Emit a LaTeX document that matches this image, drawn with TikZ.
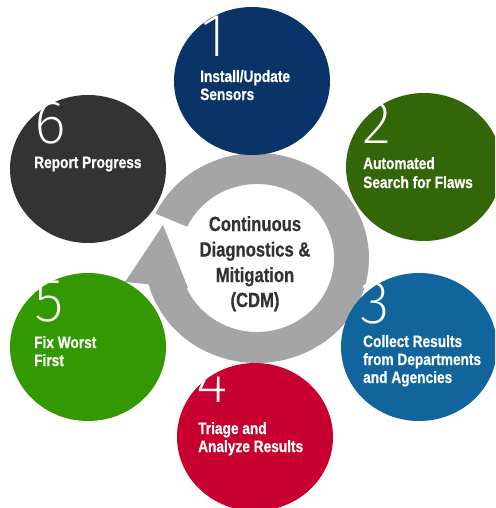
\documentclass[tikz,border=0pt]{standalone}
\usepackage{fontspec}
\usetikzlibrary{shapes.geometric}
\newfontfamily\labfont[FakeStretch=0.83,FakeBold=0.6]{Liberation Sans}
\newfontfamily\cdmfont[FakeStretch=0.81,FakeBold=0.6]{Liberation Sans}
\IfFontExistsTF{FiraSans-ExtraLight.otf}{\newfontfamily\numfont{FiraSans-ExtraLight.otf}}{%
  \IfFontExistsTF{Fira Sans ExtraLight}{\newfontfamily\numfont{Fira Sans ExtraLight}}{\newfontfamily\numfont{Fira Sans}}}
\definecolor{c1}{HTML}{0A3468}
\definecolor{c2}{HTML}{336608}
\definecolor{c3}{HTML}{11649C}
\definecolor{c4}{HTML}{C80030}
\definecolor{c5}{HTML}{339900}
\definecolor{c6}{HTML}{333333}
\definecolor{ringgray}{HTML}{A5A5A5}
\definecolor{cdmtext}{HTML}{333333}
\begin{document}
\begin{tikzpicture}[x=1pt,y=-1pt,
  bubble/.style={ellipse, minimum width=156pt, minimum height=148pt, inner sep=0pt, draw=none},
  num/.style={anchor=base west, inner sep=0pt, text height=43pt, text depth=0pt, text=white, font=\numfont\fontsize{61}{61}\selectfont},
  lab/.style={anchor=base west, inner sep=0pt, text height=12pt, text depth=3pt, text=white, font=\labfont\bfseries\fontsize{16.5}{18.5}\selectfont},
  cdm/.style={anchor=base, inner sep=0pt, text=cdmtext, font=\cdmfont\bfseries\fontsize{20.5}{25}\selectfont}]
\clip (0,0) rectangle (495,508);
\fill[white] (0,0) rectangle (495,508);
% ring with arrow
\fill[ringgray] (155.5,213.6) arc[start angle=-155, end angle=166, x radius=112, y radius=105]
  -- (182.3,275.9) arc[start angle=166, end angle=-155, x radius=77, y radius=74] -- cycle;
\coordinate (tip) at (163,225);
\coordinate (bl) at (125,282);
\coordinate (br) at (188,288);
\fill[ringgray] (tip) -- (bl) -- (br) -- cycle;
% bubbles
\node[bubble, fill=c1] (s1) at (252,81) {};
\node[bubble, fill=c2] (s2) at (424,167) {};
\node[bubble, fill=c3] (s3) at (419,347) {};
\node[bubble, fill=c4] (s4) at (255,437) {};
\node[bubble, fill=c5] (s5) at (88,347) {};
\node[bubble, fill=c6] (s6) at (88,169) {};
% numerals
\node[num] (n1) at (201,57) {1};
\node[num] (n2) at (362,143) {2};
\node[num] (n3) at (360,323) {3};
\node[num] (n4) at (196,402) {4};
\node[num] (n5) at (34,321) {5};
\node[num] (n6) at (34,143) {6};
% labels
\node[lab] (l1a) at (200,82) {Install/Update};
\node[lab] (l1b) at (200,100) {Sensors};
\node[lab] (l2a) at (363,169) {Automated};
\node[lab] (l2b) at (363,188) {Search for Flaws};
\node[lab] (l3a) at (363,347) {Collect Results};
\node[lab] (l3b) at (363,365) {from Departments};
\node[lab] (l3c) at (363,383) {and Agencies};
\node[lab] (l4a) at (198,434) {Triage and};
\node[lab] (l4b) at (198,452) {Analyze Results};
\node[lab] (l5a) at (34,348) {Fix Worst};
\node[lab] (l5b) at (34,366) {First};
\node[lab] (l6a) at (34,168) {Report Progress};
% centre text
\node[cdm] (t1) at (255,231) {Continuous};
\node[cdm] (t2) at (255,256.5) {Diagnostics \&};
\node[cdm] (t3) at (255,282) {Mitigation};
\node[cdm] (t4) at (255,307) {(CDM)};
\end{tikzpicture}
\end{document}
